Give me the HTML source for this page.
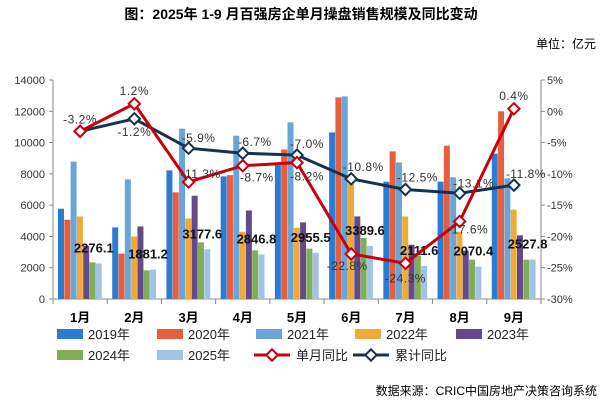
<!DOCTYPE html>
<html><head><meta charset="utf-8"><style>
body{margin:0;background:#fff;width:603px;height:404px;overflow:hidden;font-family:"Liberation Sans","Noto Sans CJK SC",sans-serif}
svg text{font-family:"Liberation Sans","Noto Sans CJK SC",sans-serif}
</style></head><body>
<svg id="chart" width="603" height="404" xmlns="http://www.w3.org/2000/svg">
<text x="301" y="19" text-anchor="middle" font-size="14" font-weight="bold" font-family="Noto Serif CJK SC, serif">图：2025年 1-9 月百强房企单月操盘销售规模及同比变动</text>
<text x="596" y="48" text-anchor="end" font-size="12">单位：亿元</text>
<text x="597" y="395" text-anchor="end" font-size="12">数据来源：CRIC中国房地产决策咨询系统</text>
<g id="plot"></g>
<g id="legend"></g>
</svg>
<script>
const months=["1月","2月","3月","4月","5月","6月","7月","8月","9月"];
const years=["2019年","2020年","2021年","2022年","2023年","2024年","2025年"];
const s2019=[5770,4580,8220,7840,8550,10650,7500,7500,9290];
const s2020=[5070,2900,6820,7920,9560,12890,9440,9800,12000];
const s2021=[8780,7650,10890,10440,11290,12950,8730,7780,7710];
const s2022=[5280,4000,5150,4300,4550,7370,5280,4300,5710];
const s2023=[3400,4640,6600,5660,4900,5280,3470,3090,4070];
const s2024=[2340,1830,3620,3110,3220,3900,2770,2510,2510];
const s2025=[2276.1,1881.2,3177.6,2846.8,2955.5,3389.6,2111.6,2070.4,2527.8];
const monthYoY=[-3.2,1.2,-11.3,-8.7,-8.2,-22.8,-24.3,-17.6,0.4];
const cumYoY=[-3.2,-1.2,-5.9,-6.7,-7.0,-10.8,-12.5,-13.1,-11.8];
const leftTicks=[0,2000,4000,6000,8000,10000,12000,14000];
const rightTicks=[-30,-25,-20,-15,-10,-5,0,5];
const series=[s2019,s2020,s2021,s2022,s2023,s2024,s2025];
const colors=["#2b7bd0","#e55e3e","#69a5d9","#f0aa3b","#634a8a","#7fae56","#a2c3e6"];
const NS="http://www.w3.org/2000/svg";
const X0=53,X1=541,YT=80,YB=299;
const cw=(X1-X0)/months.length;
const yL=v=>YB-(v/14000)*(YB-YT);
const yR=v=>YB-((v+30)/35)*(YB-YT);
const plot=document.getElementById('plot');
function mk(tag,at,parent){const e=document.createElementNS(NS,tag);for(const k in at)e.setAttribute(k,at[k]);(parent||plot).appendChild(e);return e;}
let a=mk('line',{x1:X0,y1:YT,x2:X0,y2:YB,stroke:'#888'});
a=mk('line',{x1:X1,y1:YT,x2:X1,y2:YB,stroke:'#888'});
a=mk('line',{x1:X0,y1:YB,x2:X1,y2:YB,stroke:'#888'});
leftTicks.forEach(v=>{const y=yL(v);mk('line',{x1:X0-4,y1:y,x2:X0,y2:y,stroke:'#888'});
const t=mk('text',{x:X0-8,y:y+4,'text-anchor':'end','font-size':11,fill:'#333'});t.textContent=v;
});
rightTicks.forEach(v=>{const y=yR(v);mk('line',{x1:X1,y1:y,x2:X1+4,y2:y,stroke:'#888'});
const t=mk('text',{x:X1+6,y:y+4,'font-size':11,fill:'#333'});t.textContent=v+'%';
});
for(let i=0;i<=months.length;i++){const x=X0+i*cw;mk('line',{x1:x,y1:YB,x2:x,y2:YB+5,stroke:'#888'});}
months.forEach((m,i)=>{const t=mk('text',{x:X0+cw*(i+0.5),y:322,'text-anchor':'middle','font-size':13,'font-weight':'bold'});t.textContent=m;
});
const bw=6.3,goff=5;
series.forEach((s,si)=>{s.forEach((v,i)=>{const x=X0+i*cw+goff+si*bw;const y=yL(v);
const r=mk('rect',{x:x,y:y,width:bw-0.3,height:YB-y,fill:colors[si]});
});});
s2025.forEach((v,i)=>{const x=X0+i*cw+goff+6*bw;const t=mk('text',{x:x-2,y:yL(v)-11,'text-anchor':'middle','font-size':13,'font-weight':'bold',fill:'#111'});
t.textContent=v.toFixed(1);});
function line(vals,col,name,offs){const pts=vals.map((v,i)=>[X0+cw*(i+0.5),yR(v)]);
const p=mk('polyline',{points:pts.map(q=>q.join(',')).join(' '),fill:'none',stroke:col,'stroke-width':3});

pts.forEach((q,i)=>{const m=mk('rect',{x:q[0]-4,y:q[1]-4,width:8,height:8,fill:'#fff',stroke:col,'stroke-width':2,transform:`rotate(45 ${q[0]} ${q[1]})`});

if(!offs[i])return;
const t=mk('text',{x:q[0]+offs[i][0],y:q[1]+offs[i][1],'text-anchor':'middle','font-size':12,fill:'#333','letter-spacing':'0.5'});
t.textContent=vals[i].toFixed(1)+'%';});}
line(cumYoY,'#17324f','cumulative-yoy',[[0,-8],[0,17],[10,-6],[12,-7],[10,-7],[12,-8],[12,-8],[14,-6],[12,-7]]);
line(monthYoY,'#c9000c','monthly-yoy',[null,[0,-9],[12,-4],[14,16],[10,18],[-4,16],[0,19],[8,12],[0,-9]]);
const lg=document.getElementById('legend');
const items=years.map((y,i)=>({t:y,c:colors[i],k:'bar'})).concat([{t:'单月同比',c:'#c9000c',k:'line'},{t:'累计同比',c:'#17324f',k:'line'}]);
const cx=[57,157,256,355,456];
items.forEach((it,i)=>{const x=cx[i%5],y=i<5?334:355;const g=mk('g',{},lg);

if(it.k==='bar')mk('rect',{x:x,y:y-5,width:26,height:10,fill:it.c},g);
else{mk('line',{x1:x-2,y1:y,x2:x+34,y2:y,stroke:it.c,'stroke-width':3},g);
mk('rect',{x:x+12,y:y-4,width:8,height:8,fill:'#fff',stroke:it.c,'stroke-width':2,transform:`rotate(45 ${x+16} ${y})`},g);}
const t=mk('text',{x:it.k==='bar'?x+31:x+40,y:y+5,'font-size':13,fill:'#222'},g);t.textContent=it.t;});
</script>
</body></html>
